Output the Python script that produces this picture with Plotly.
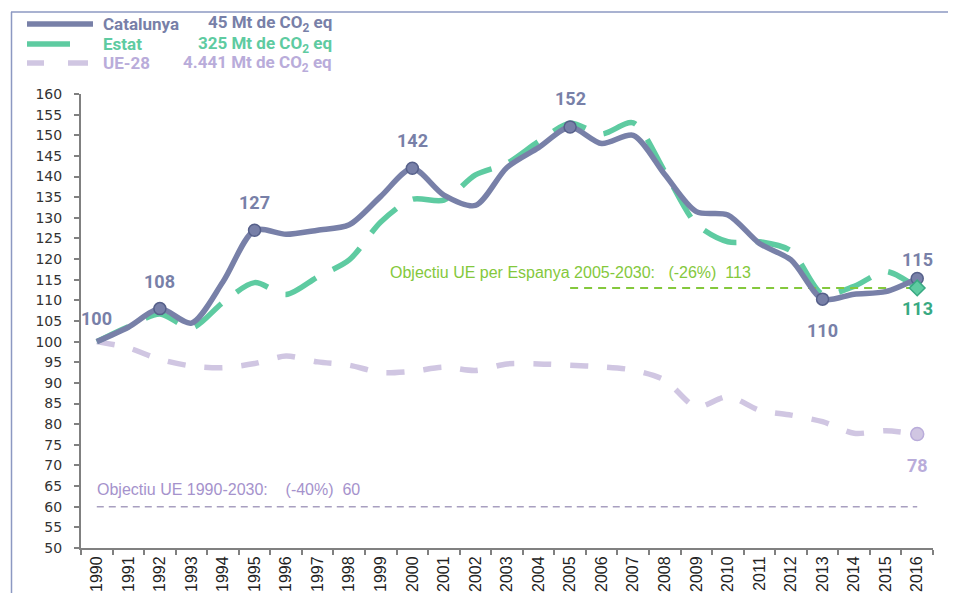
import plotly.graph_objects as go

# ---------------- data ----------------
years = [str(y) for y in range(1990, 2017)]

catalunya = [100, 103.5, 108, 104.5, 114.5, 127, 126, 127, 128.3, 135.2, 142, 135.5, 133,
             142.2, 147, 152, 148, 150, 140.5, 131.5, 130.7, 123.8, 119.8, 110.3, 111.5, 112.1, 115.3]
estat = [100, 103.6, 106.7, 103.3, 109.5, 114.3, 111.4, 115.7, 119.8, 129, 134.5, 134.3, 140.4,
         143.2, 148.5, 152.9, 150.3, 153, 141.2, 128.5, 124.2, 124.2, 122, 111.5, 113.4, 117, 113]
ue28 = [100, 98.5, 95.7, 94.1, 93.7, 94.7, 96.5, 95.1, 94.3, 92.5, 92.8, 93.8, 93, 94.6,
        94.6, 94.3, 93.9, 93.1, 90.7, 84.2, 86.7, 83.4, 82.2, 80.6, 77.8, 78.4, 77.6]

cat_marked_years = ["1992", "1995", "2000", "2005", "2013", "2016"]
cat_label_years = ["1990", "1992", "1995", "2000", "2005", "2013", "2016"]

target_es_value = 113
target_es_years = ["2005", "2016"]
target_ue_value = 60
target_ue_years = ["1990", "2016"]

legend_names = ["Catalunya", "Estat", "UE-28"]
legend_totals = ["45 Mt de CO<sub>2</sub> eq", "325 Mt de CO<sub>2</sub> eq", "4.441 Mt de CO<sub>2</sub> eq"]

# ---------------- styles ----------------
C_CAT = "#7880A8"
C_CAT_DARK = "#56608A"
C_EST = "#5ECBA1"
C_EST_DARK = "#38A982"
C_UE = "#D0C6E2"
C_UE_TXT = "#B9ACDA"
C_ES_TGT = "#84C83C"
C_UE_TGT = "#A89FC0"
C_UE_TGT_TXT = "#A592CC"
C_AXIS = "#808080"
C_FRAME = "#8C99C2"

OFF = 8  # page body margin
W, H = 948, 585
L, R, T, B = 73, 23, 86, 45
PW, PH = W - L - R, H - T - B


def px(x):
    return (x - OFF - L) / PW


def py(y):
    return (H - B - (y - OFF)) / PH


fig = go.Figure()

# UE-28
fig.add_trace(go.Scatter(x=years, y=ue28, mode="lines",
                         line=dict(color=C_UE, width=5.5, dash="18px,19px", shape="spline", smoothing=0.8),
                         hoverinfo="skip"))
# Estat
fig.add_trace(go.Scatter(x=years, y=estat, mode="lines",
                         line=dict(color=C_EST, width=5.5, dash="35px,19px", shape="spline", smoothing=0.8),
                         hoverinfo="skip"))
# targets
fig.add_trace(go.Scatter(x=target_ue_years, y=[target_ue_value] * 2, mode="lines",
                         line=dict(color=C_UE_TGT, width=1.5, dash="7px,5px"), hoverinfo="skip"))
fig.add_trace(go.Scatter(x=target_es_years, y=[target_es_value] * 2, mode="lines",
                         line=dict(color=C_ES_TGT, width=2, dash="8px,6px"), hoverinfo="skip"))
# Catalunya
fig.add_trace(go.Scatter(x=years, y=catalunya, mode="lines",
                         line=dict(color=C_CAT, width=5.5, shape="spline", smoothing=0.8),
                         hoverinfo="skip"))
# markers
cat_idx = [years.index(y) for y in cat_marked_years]
fig.add_trace(go.Scatter(x=[years[i] for i in cat_idx], y=[catalunya[i] for i in cat_idx], mode="markers",
                         marker=dict(color=C_CAT, size=12, line=dict(color=C_CAT_DARK, width=1.5)),
                         hoverinfo="skip"))
fig.add_trace(go.Scatter(x=[years[-1]], y=[ue28[-1]], mode="markers",
                         marker=dict(color=C_UE, size=13, line=dict(color=C_UE_TXT, width=1.5)),
                         hoverinfo="skip"))
fig.add_trace(go.Scatter(x=[years[-1]], y=[estat[-1]], mode="markers",
                         marker=dict(color=C_EST, size=12, symbol="diamond", line=dict(color=C_EST_DARK, width=1.5)),
                         hoverinfo="skip"))

# data labels (category axis annotations use the category index)
lab_font = dict(family="Roboto, Arial, sans-serif", size=18, weight="bold")
cat_shift = {"1990": 23, "1992": 27, "1995": 28, "2000": 28, "2005": 29, "2013": -31, "2016": 19}
for yr in cat_label_years:
    i = years.index(yr)
    v = catalunya[i]
    fig.add_annotation(x=i, y=v, text=f"{round(v)}", showarrow=False, yshift=cat_shift[yr],
                       font=dict(color=C_CAT, **lab_font))
last = len(years) - 1
fig.add_annotation(x=last, y=estat[-1], text=f"{round(estat[-1])}", showarrow=False, yshift=-21,
                   font=dict(color=C_EST_DARK, **lab_font))
fig.add_annotation(x=last, y=ue28[-1], text=f"{round(ue28[-1])}", showarrow=False, yshift=-31,
                   font=dict(color=C_UE_TXT, **lab_font))

# target labels
nb = "\u00a0"
tgt_font = dict(family="Liberation Sans, Arial, sans-serif", size=16)
fig.add_annotation(x=years.index(target_es_years[0]), y=target_es_value,
                   text=f"Objectiu UE per Espanya 2005-2030:{nb * 3}(-26%){nb * 2}{target_es_value}",
                   showarrow=False, yshift=15, xanchor="center", font=dict(color=C_ES_TGT, **tgt_font))
fig.add_annotation(x=years.index(target_ue_years[0]), y=target_ue_value,
                   text=f"Objectiu UE 1990-2030:{nb * 4}(-40%){nb * 2}{target_ue_value}",
                   showarrow=False, yshift=17, xanchor="left", xshift=-2, font=dict(color=C_UE_TGT_TXT, **tgt_font))

# frame
fig.add_shape(type="line", xref="paper", yref="paper", x0=px(11.5), x1=px(11.5), y0=py(12), y1=py(600),
              line=dict(color=C_FRAME, width=1.5))
fig.add_shape(type="line", xref="paper", yref="paper", x0=px(11), x1=px(960), y0=py(12), y1=py(12),
              line=dict(color=C_FRAME, width=1.5))

# legend (manual)
leg_text_colors = [C_CAT, C_EST, C_UE_TXT]
leg_y = [24, 44, 63]
fig.add_shape(type="line", xref="paper", yref="paper", x0=px(27), x1=px(93), y0=py(24), y1=py(24),
              line=dict(color=C_CAT, width=5.5))
fig.add_shape(type="line", xref="paper", yref="paper", x0=px(27), x1=px(70), y0=py(44), y1=py(44),
              line=dict(color=C_EST, width=5.5))
for a, b in [(27, 44), (68, 88)]:
    fig.add_shape(type="line", xref="paper", yref="paper", x0=px(a), x1=px(b), y0=py(63), y1=py(63),
                  line=dict(color=C_UE, width=5.5))
leg_font = dict(family="Roboto, Arial, sans-serif", size=17, weight="bold")
for name, tot, yy, col in zip(legend_names, legend_totals, leg_y, leg_text_colors):
    fig.add_annotation(xref="paper", yref="paper", x=px(101), y=py(yy), text=name, showarrow=False,
                       xanchor="left", yanchor="middle", font=dict(color=col, **leg_font))
    fig.add_annotation(xref="paper", yref="paper", x=px(334), y=py(yy), text=tot, showarrow=False,
                       xanchor="right", yanchor="middle", font=dict(color=col, **leg_font))

ytick_font = dict(family="DejaVu Sans, Arial, sans-serif", size=14, color="#333333")
xtick_font = dict(family="Liberation Sans, Arial, sans-serif", size=16, color="#222222")
fig.update_layout(
    width=W, height=H, margin=dict(l=L, r=R, t=T, b=B),
    paper_bgcolor="white", plot_bgcolor="white", showlegend=False, template="none",
    xaxis=dict(type="category", categoryorder="array", categoryarray=years, range=[-0.5, 26.5],
               tickson="boundaries", ticks="outside", ticklen=5, tickwidth=1.5, tickcolor=C_AXIS,
               showline=True, linecolor=C_AXIS, linewidth=2, showgrid=False, zeroline=False,
               tickangle=-90, tickfont=xtick_font, automargin=False),
    yaxis=dict(range=[50, 160], dtick=5, tick0=50, ticks="outside", ticklen=5, tickwidth=1.5,
               tickcolor=C_AXIS, showline=True, linecolor=C_AXIS, linewidth=2, showgrid=False,
               zeroline=False, tickfont=ytick_font, automargin=False, ticklabelstandoff=9),
)

fig.write_html("out.html")
